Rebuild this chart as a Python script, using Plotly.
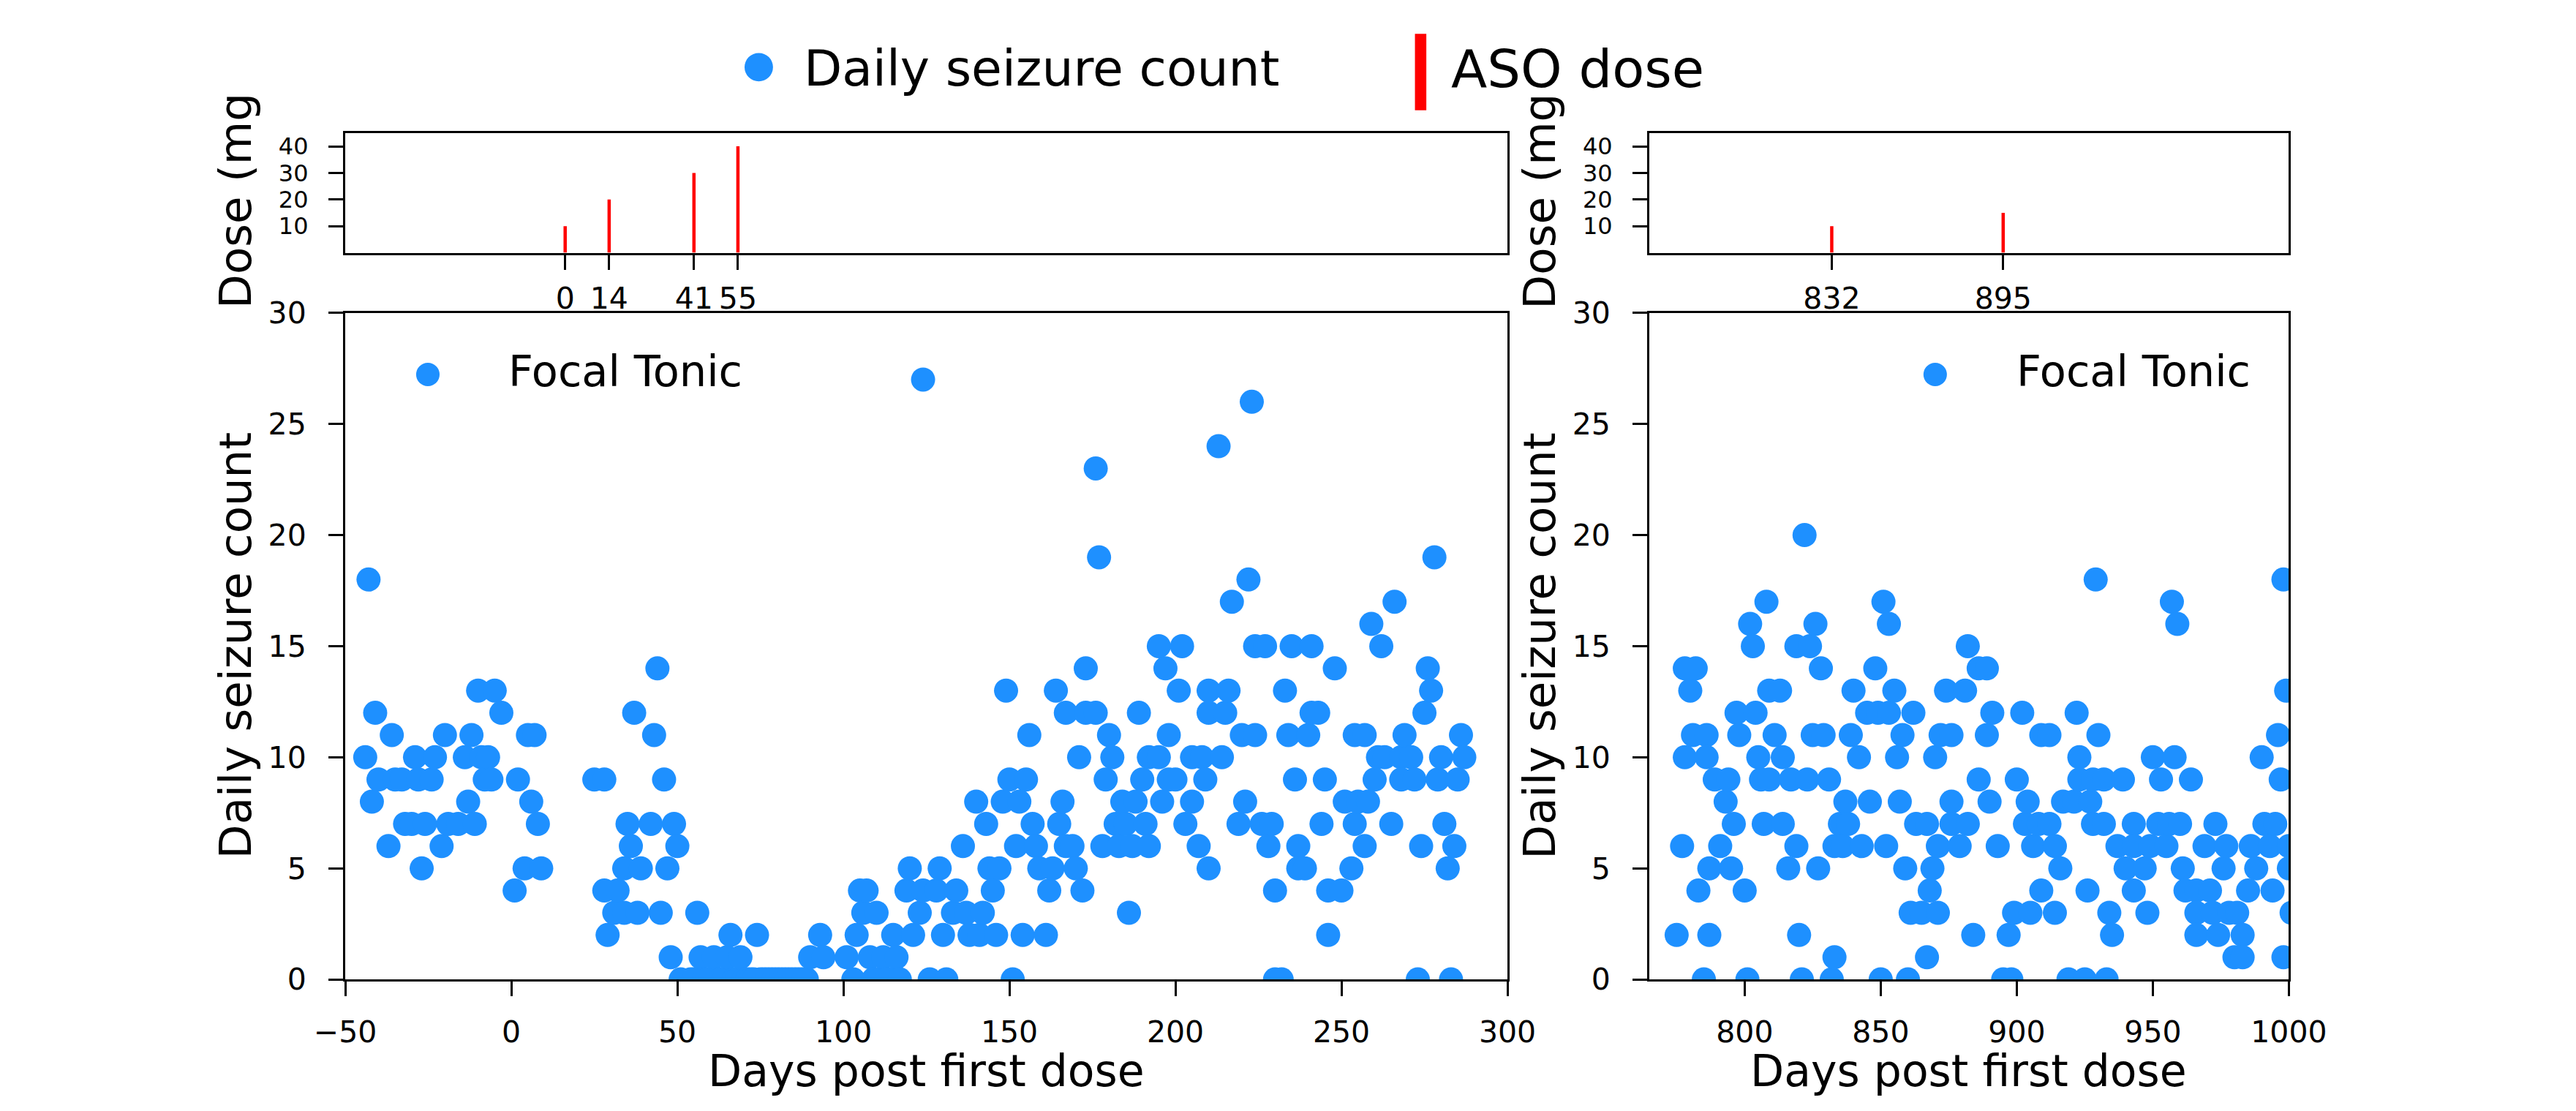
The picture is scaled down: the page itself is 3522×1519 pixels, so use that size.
import plotly.graph_objects as go

# ---------------- data ----------------
days_early = [-44, -43, -42, -41, -40, -37, -36, -35, -33, -32, -30, -29, -28, -27, -26, -24, -23, -21, -20, -19,
              -16, -14, -13, -12, -11, -10, -9, -8, -7, -6, -5, -3, 1, 2, 4, 5, 6, 7, 8, 9,
              25, 28, 28, 29, 31, 32, 34, 34, 35, 36, 37, 38, 39, 42, 43, 44, 45, 46, 47, 48, 49, 50,
              51, 54, 55, 56, 57, 58, 59, 60, 61, 62, 63, 64, 65, 66, 67, 68, 69, 70, 71, 72, 73, 74,
              75, 76, 77, 78, 79, 80, 81, 82, 83, 84, 85, 86, 87, 88, 89, 90, 93, 94,
              101, 103, 104, 105, 106, 107, 108, 109, 110, 111, 112, 113, 114, 115, 116, 117, 119, 120,
              121, 123, 124, 124, 126, 128, 129, 130, 131, 133, 134, 136, 137, 138, 140, 141, 142, 143,
              144, 145, 146, 147, 148, 149, 150, 151, 152, 153, 154, 155, 156, 157, 158, 159, 161, 162,
              163, 164, 165, 166, 167, 167, 169, 170, 171, 172, 173, 173, 176, 176, 177, 178, 179, 180,
              181, 182, 183, 184, 185, 186, 187, 188, 189, 190, 191, 192, 192, 195, 195, 196, 197, 198,
              198, 200, 201, 202, 203, 205, 205, 207, 208, 209, 210, 210, 210, 213, 214, 215, 216, 217,
              219, 220, 221, 222, 223, 224, 224, 226, 227, 228, 229, 230, 230, 232, 233, 234, 235, 236,
              237, 237, 239, 240, 241, 241, 243, 244, 245, 246, 246, 248, 250, 251, 253, 254, 254, 255,
              257, 257, 258, 259, 260, 261, 262, 263, 265, 266, 268, 268, 269, 271, 272, 273, 274, 275,
              276, 277, 278, 279, 280, 281, 282, 283, 284, 285, 286, 287]
counts_early = [10, 18, 8, 12, 9, 6, 11, 9, 9, 7, 7, 10, 9, 5, 7, 9, 10, 6, 11, 7,
                7, 10, 8, 11, 7, 13, 10, 9, 10, 9, 13, 12, 4, 9, 5, 11, 8, 11, 7, 5,
                9, 9, 4, 2, 3, 4, 3, 5, 7, 6, 12, 3, 5, 7, 11, 14, 3, 9, 5, 1, 7, 6,
                0, 0, 0, 3, 1, 0, 0, 0, 1, 0, 0, 0, 1, 2, 0, 0, 1, 0, 0, 0, 0, 2,
                0, 0, 0, 0, 0, 0, 0, 0, 0, 0, 0, 0, 0, 0, 0, 1, 2, 1,
                1, 0, 2, 4, 3, 4, 1, 0, 3, 0, 1, 0, 0, 2, 1, 0, 4, 5,
                2, 3, 4, 27, 0, 4, 5, 2, 0, 3, 4, 6, 3, 2, 8, 2, 3, 7,
                5, 4, 2, 5, 8, 13, 9, 0, 6, 8, 2, 9, 11, 7, 6, 5, 2, 4,
                5, 13, 7, 8, 12, 6, 6, 5, 10, 4, 12, 14, 12, 23, 19, 6, 9, 11,
                10, 7, 6, 8, 7, 3, 6, 8, 12, 9, 7, 10, 6, 15, 10, 8, 14, 11,
                9, 9, 13, 15, 7, 10, 8, 6, 10, 9, 13, 12, 5, 24, 10, 12, 13, 17,
                7, 11, 8, 18, 26, 15, 11, 7, 15, 6, 7, 4, 0, 0, 13, 11, 15, 9,
                6, 5, 5, 11, 15, 12, 12, 7, 9, 4, 2, 14, 4, 8, 5, 11, 7, 8,
                11, 6, 8, 16, 9, 10, 15, 10, 7, 17, 10, 9, 11, 10, 9, 0, 6, 12,
                14, 13, 19, 9, 10, 7, 5, 0, 6, 9, 11, 10]

days_late = [775, 777, 778, 778, 780, 781, 782, 783, 785, 786, 786, 787, 787, 789, 791, 793, 794, 795, 796, 797,
             798, 800, 801, 802, 803, 804, 805, 806, 807, 808, 809, 809, 811, 813, 814, 814, 816, 817, 819, 819,
             820, 821, 822, 823, 824, 825, 826, 827, 828, 829, 831, 832, 833, 833, 835, 836, 837, 838, 839, 840,
             842, 843, 845, 846, 848, 849, 850, 851, 852, 853, 853, 855, 856, 857, 858, 859, 860, 861, 862, 863,
             865, 867, 867, 868, 869, 870, 871, 871, 872, 874, 876, 876, 876, 879, 881, 882, 882, 884, 886, 886,
             889, 889, 890, 891, 893, 895, 897, 898, 899, 900, 902, 903, 904, 905, 906, 908, 909, 909, 912, 912,
             914, 914, 916, 917, 919, 921, 922, 923, 923, 925, 926, 927, 928, 928, 929, 930, 932, 932, 933, 934,
             935, 937, 939, 940, 943, 943, 943, 947, 948, 949, 950, 952, 953, 955, 956, 957, 958, 959, 960, 961,
             962, 964, 966, 966, 966, 969, 971, 972, 973, 974, 976, 977, 978, 980, 981, 983, 983, 985, 986, 988,
             990, 991, 993, 994, 995, 996, 997, 998, 998, 999, 1000, 1000, 1001]
counts_late = [2, 6, 14, 10, 13, 11, 14, 4, 0, 11, 10, 5, 2, 9, 6, 8, 9, 5, 7, 12,
               11, 4, 0, 16, 15, 12, 10, 9, 7, 17, 13, 9, 11, 13, 10, 7, 5, 9, 15, 6,
               2, 0, 20, 9, 15, 11, 16, 5, 14, 11, 9, 0, 6, 1, 7, 6, 8, 7, 11, 13,
               10, 6, 12, 8, 14, 12, 0, 17, 6, 16, 12, 13, 10, 8, 11, 5, 0, 3, 12, 7,
               3, 7, 1, 4, 5, 10, 6, 3, 11, 13, 11, 8, 7, 6, 13, 15, 7, 2, 14, 9,
               14, 11, 8, 12, 6, 0, 2, 0, 3, 9, 12, 7, 8, 3, 6, 7, 11, 4, 11, 7,
               6, 3, 5, 8, 0, 8, 12, 10, 9, 0, 4, 8, 9, 7, 18, 11, 9, 7, 0, 3,
               2, 6, 9, 5, 7, 6, 4, 5, 3, 6, 10, 7, 9, 6, 7, 17, 10, 16, 7, 5,
               4, 9, 4, 3, 2, 6, 4, 3, 7, 2, 5, 6, 3, 1, 3, 2, 1, 4, 6, 5,
               10, 7, 6, 4, 7, 11, 9, 18, 1, 13, 6, 5, 3]

dose_days_early = [0, 14, 41, 55]
dose_mg_early = [10, 20, 30, 40]
dose_days_late = [832, 895]
dose_mg_late = [10, 15]

seizure_ticks_y = [0, 5, 10, 15, 20, 25, 30]
dose_ticks_y = [10, 20, 30, 40]
early_ticks_x = [-50, 0, 50, 100, 150, 200, 250, 300]
late_ticks_x = [800, 850, 900, 950, 1000]

# ---------------- layout helpers ----------------
W, H = 3522, 1519
FONT = "DejaVu Sans"
BLUE = "#1E90FF"


def px(x):
    return x / W


def py(y):
    return 1 - y / H


L_X = [px(441), px(2074)]
R_X = [px(2273.5), px(3172)]
MAIN_Y = [py(1358), py(417)]
TOP_Y = [py(332), py(163)]


def axis_style(**kw):
    d = dict(showline=True, linecolor="black", linewidth=3.3, mirror=True,
             ticks="outside", ticklen=20, tickwidth=3.3, tickcolor="black",
             showgrid=False, zeroline=False,
             tickfont=dict(family=FONT, size=41, color="black"))
    d.update(kw)
    return d


def stems(days, mg):
    xs, ys = [], []
    for d, m in zip(days, mg):
        xs += [d, d, None]
        ys += [0, m, None]
    return xs, ys


fig = go.Figure()

fig.add_trace(go.Scatter(x=days_early, y=counts_early, mode="markers",
                         marker=dict(size=33, color=BLUE, line=dict(width=0)),
                         xaxis="x", yaxis="y", showlegend=False, hoverinfo="skip"))
fig.add_trace(go.Scatter(x=days_late, y=counts_late, mode="markers",
                         marker=dict(size=33, color=BLUE, line=dict(width=0)),
                         xaxis="x2", yaxis="y2", showlegend=False, hoverinfo="skip"))

sx, sy = stems(dose_days_early, dose_mg_early)
fig.add_trace(go.Scatter(x=sx, y=sy, mode="lines", line=dict(color="red", width=4.5),
                         xaxis="x3", yaxis="y3", showlegend=False, hoverinfo="skip"))
sx, sy = stems(dose_days_late, dose_mg_late)
fig.add_trace(go.Scatter(x=sx, y=sy, mode="lines", line=dict(color="red", width=4.5),
                         xaxis="x4", yaxis="y4", showlegend=False, hoverinfo="skip"))

top_tick_font = dict(family=FONT, size=32, color="black")

fig.update_layout(
    width=W, height=H, autosize=False,
    margin=dict(l=0, r=0, t=0, b=0),
    paper_bgcolor="white", plot_bgcolor="white",
    font=dict(family=FONT, color="black"),
    xaxis=axis_style(domain=L_X, range=[-50, 300], tickvals=early_ticks_x, anchor="y",
                     ticklabelstandoff=14),
    yaxis=axis_style(domain=MAIN_Y, range=[0, 30], tickvals=seizure_ticks_y, anchor="x",
                     ticklabelstandoff=22),
    xaxis2=axis_style(domain=R_X, range=[765, 1000], tickvals=late_ticks_x, anchor="y2",
                      ticklabelstandoff=14),
    yaxis2=axis_style(domain=MAIN_Y, range=[0, 30], tickvals=seizure_ticks_y, anchor="x2",
                      ticklabelstandoff=22),
    xaxis3=axis_style(domain=L_X, range=[-70, 300], tickvals=dose_days_early, anchor="y3",
                      ticklabelstandoff=4),
    yaxis3=axis_style(domain=TOP_Y, range=[0, 45], tickvals=dose_ticks_y, anchor="x3",
                      ticklabelstandoff=21, tickfont=top_tick_font),
    xaxis4=axis_style(domain=R_X, range=[765, 1000], tickvals=dose_days_late, anchor="y4",
                      ticklabelstandoff=4),
    yaxis4=axis_style(domain=TOP_Y, range=[0, 45], tickvals=dose_ticks_y, anchor="x4",
                      ticklabelstandoff=21, tickfont=top_tick_font),
)

ann = []


def text(x, y, s, size, angle=0, xanchor="center", yanchor="middle"):
    ann.append(dict(x=px(x), y=py(y), xref="paper", yref="paper", text=s, showarrow=False,
                    textangle=angle, xanchor=xanchor, yanchor=yanchor,
                    font=dict(family=FONT, size=size, color="black")))


# axis titles
text(287, 887, "Daily seizure count", 61, angle=-90)
text(2119, 887, "Daily seizure count", 61, angle=-90)
text(287, 259, "Dose (mg", 61, angle=-90)
text(2119, 259, "Dose (mg", 61, angle=-90)
text(1257, 1487, "Days post first dose", 60)
text(2722, 1487, "Days post first dose", 60)

# figure legend
text(1083, 72, "Daily seizure count", 68, xanchor="left")
text(1993, 72, "ASO dose", 72, xanchor="left")
# in-axes legends
text(668, 499, "Focal Tonic", 59, xanchor="left")
text(2787, 499, "Focal Tonic", 59, xanchor="left")

shapes = [
    dict(type="circle", xref="paper", yref="paper", x0=px(1002), x1=px(1042), y0=py(90), y1=py(50),
         fillcolor=BLUE, line=dict(width=0)),
    dict(type="rect", xref="paper", yref="paper", x0=px(1944), x1=px(1960), y0=py(131), y1=py(23),
         fillcolor="red", line=dict(width=0)),
    dict(type="circle", xref="paper", yref="paper", x0=px(540.5), x1=px(573.5), y0=py(520.5), y1=py(487.5),
         fillcolor=BLUE, line=dict(width=0)),
    dict(type="circle", xref="paper", yref="paper", x0=px(2658.5), x1=px(2691.5), y0=py(520.5), y1=py(487.5),
         fillcolor=BLUE, line=dict(width=0)),
]

fig.update_layout(annotations=ann, shapes=shapes)

fig.write_html("out.html", config={"displayModeBar": False},
               post_script="document.body.style.margin='0';document.body.style.overflow='hidden';")
